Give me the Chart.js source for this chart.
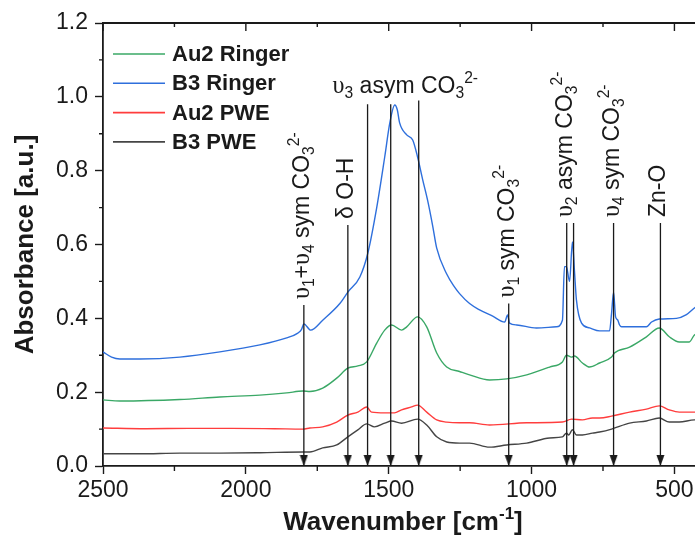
<!DOCTYPE html>
<html>
<head>
<meta charset="utf-8">
<script src="https://cdn.jsdelivr.net/npm/chart.js@4.4.0/dist/chart.umd.min.js"></script>
<style>
  html, body { margin: 0; padding: 0; background: #fff; }
  #wrap { width: 695px; height: 544px; overflow: hidden; }
</style>
</head>
<body>
<div id="wrap"><canvas id="spectra" width="712" height="544"></canvas></div>
<script>
// axis ticks
const xMajor = [2500, 2000, 1500, 1000, 500];
const xMinor = [2250, 1750, 1250, 750];
const yMajor = [0, 0.2, 0.4, 0.6, 0.8, 1.0, 1.2];
const yMinor = [0.1, 0.3, 0.5, 0.7, 0.9, 1.1];

// spectra (wavenumber cm-1, absorbance)
const wnAu2Ringer = [2500, 2441, 2231, 2091, 1951, 1857, 1800, 1776, 1731, 1682, 1643, 1608, 1577, 1542, 1514, 1490, 1455, 1437, 1399, 1367, 1332, 1297, 1252, 1217, 1147, 1087, 1017, 937, 892, 878, 860, 850, 822, 797, 762, 720, 710, 657, 598, 553, 518, 483, 448, 430, 410];
const absAu2Ringer = [0.179, 0.176, 0.180, 0.187, 0.192, 0.198, 0.203, 0.202, 0.211, 0.238, 0.265, 0.271, 0.282, 0.333, 0.368, 0.382, 0.368, 0.377, 0.404, 0.377, 0.306, 0.268, 0.256, 0.247, 0.233, 0.236, 0.247, 0.268, 0.282, 0.300, 0.295, 0.298, 0.279, 0.268, 0.279, 0.295, 0.306, 0.322, 0.350, 0.374, 0.350, 0.336, 0.336, 0.355, 0.360];

const wnB3Ringer = [2500, 2470, 2441, 2371, 2231, 2091, 1951, 1857, 1818, 1805, 1797, 1773, 1731, 1671, 1643, 1601, 1573, 1542, 1514, 1496, 1479, 1470, 1462, 1437, 1416, 1399, 1381, 1364, 1346, 1332, 1297, 1270, 1252, 1217, 1182, 1136, 1094, 1084, 1077, 1052, 983, 913, 892, 885, 878, 867, 857, 850, 843, 825, 797, 762, 727, 720, 713, 706, 699, 692, 685, 598, 580, 553, 493, 458, 430, 410];
const absB3Ringer = [0.309, 0.295, 0.290, 0.290, 0.295, 0.309, 0.328, 0.347, 0.360, 0.370, 0.385, 0.368, 0.395, 0.440, 0.471, 0.512, 0.577, 0.700, 0.837, 0.930, 0.978, 0.965, 0.930, 0.897, 0.883, 0.837, 0.775, 0.720, 0.650, 0.590, 0.520, 0.485, 0.467, 0.440, 0.423, 0.406, 0.390, 0.409, 0.387, 0.382, 0.374, 0.377, 0.395, 0.540, 0.540, 0.500, 0.607, 0.530, 0.450, 0.387, 0.374, 0.366, 0.366, 0.414, 0.471, 0.404, 0.396, 0.382, 0.377, 0.377, 0.390, 0.398, 0.400, 0.410, 0.428, 0.440];

const wnAu2PWE = [2500, 2350, 2200, 2050, 1900, 1800, 1776, 1731, 1682, 1643, 1608, 1577, 1560, 1514, 1480, 1455, 1420, 1399, 1367, 1332, 1297, 1252, 1217, 1147, 1017, 892, 860, 822, 787, 762, 720, 657, 598, 553, 518, 483, 430, 410];
const absAu2PWE = [0.103, 0.101, 0.102, 0.102, 0.101, 0.100, 0.103, 0.106, 0.119, 0.138, 0.146, 0.160, 0.146, 0.144, 0.144, 0.152, 0.160, 0.165, 0.146, 0.125, 0.119, 0.117, 0.117, 0.111, 0.117, 0.119, 0.127, 0.125, 0.130, 0.130, 0.135, 0.146, 0.154, 0.163, 0.152, 0.146, 0.146, 0.146];

const wnB3PWE = [2500, 2371, 2231, 2091, 1951, 1800, 1776, 1731, 1682, 1643, 1608, 1577, 1550, 1514, 1490, 1455, 1399, 1367, 1332, 1297, 1252, 1217, 1147, 1087, 1017, 937, 892, 878, 870, 857, 843, 822, 787, 762, 720, 657, 598, 553, 518, 483, 430, 410];
const absB3PWE = [0.033, 0.033, 0.035, 0.035, 0.036, 0.038, 0.038, 0.049, 0.057, 0.079, 0.098, 0.114, 0.106, 0.116, 0.122, 0.116, 0.127, 0.111, 0.079, 0.065, 0.062, 0.062, 0.051, 0.057, 0.062, 0.076, 0.079, 0.089, 0.084, 0.098, 0.084, 0.084, 0.089, 0.092, 0.100, 0.116, 0.122, 0.130, 0.119, 0.119, 0.125, 0.125];

// band markers: wavenumber and absorbance where the arrow starts
const bandWn = [1797, 1643, 1574, 1493, 1395, 1080, 877, 853, 713, 549];
const bandTop = [0.436, 0.653, 0.98, 0.98, 0.99, 0.44, 0.658, 0.658, 0.658, 0.658];

// label text; "g" = greek glyph, "sub"/"sup" = sub/superscript
const bandLabels = [
  { band: 0, segs: [["υ", "g"], ["1", "sub"], ["+"], ["υ", "g"], ["4", "sub"], [" sym CO"], ["3", "sub"], ["2-", "sup"]] },
  { band: 1, segs: [["δ O-H"]] },
  { band: 5, segs: [["υ", "g"], ["1", "sub"], [" sym CO"], ["3", "sub"], ["2-", "sup"]] },
  { band: 6, segs: [["υ", "g"], ["2", "sub"], [" asym CO"], ["3", "sub"], ["2-", "sup"]] },
  { band: 8, segs: [["υ", "g"], ["4", "sub"], [" sym CO"], ["3", "sub"], ["2-", "sup"]] },
  { band: 9, segs: [["Zn-O"]] },
];
const groupLabel = { band: 2, segs: [["υ", "g"], ["3", "sub"], [" asym CO"], ["3", "sub"], ["2-", "sup"]] };

const SANS = '"Liberation Sans", Arial, sans-serif';
const SERIF = '"Liberation Serif", "Times New Roman", serif';
const INK = "#1a1a1a";
const LABEL_SIZE = 23;

function pairs(xs, ys) {
  return xs.map((x, i) => ({ x: x, y: ys[i] }));
}

// little arrow head used as point style (tip sits at the point)
const arrowHead = document.createElement("canvas");
arrowHead.width = 9;
arrowHead.height = 24;
const ac = arrowHead.getContext("2d");
ac.fillStyle = INK;
ac.beginPath();
ac.moveTo(0.5, 1);
ac.lineTo(8.5, 1);
ac.lineTo(4.5, 12);
ac.closePath();
ac.fill();

function drawRich(ctx, segs, x, y, size) {
  let cx = x;
  segs.forEach(([t, kind]) => {
    let fs = size, dy = 0, fam = SANS;
    if (kind === "sub") { fs = size * 0.68; dy = size * 0.22; }
    if (kind === "sup") { fs = size * 0.68; dy = -size * 0.42; }
    if (kind === "g") { fam = SERIF; fs = size * 1.05; }
    ctx.font = fs + "px " + fam;
    ctx.fillText(t, cx, y + dy);
    cx += ctx.measureText(t).width;
  });
  return cx - x;
}

const curves = [
  { label: "Au2 Ringer", color: "#3aa866", wn: wnAu2Ringer, abs: absAu2Ringer },
  { label: "B3 Ringer", color: "#2e6fdc", wn: wnB3Ringer, abs: absB3Ringer },
  { label: "Au2 PWE", color: "#ff3d3d", wn: wnAu2PWE, abs: absAu2PWE },
  { label: "B3 PWE", color: "#454545", wn: wnB3PWE, abs: absB3PWE },
];

const datasets = curves.map((c) => ({
  label: c.label,
  isCurve: true,
  data: pairs(c.wn, c.abs),
  borderColor: c.color,
  borderWidth: 1.4,
  pointRadius: 0,
  cubicInterpolationMode: "monotone",
  order: 1,
}));

bandWn.forEach((w, i) => {
  datasets.push({
    label: "band" + i,
    data: [{ x: w, y: bandTop[i] }, { x: w, y: 0 }],
    borderColor: INK,
    borderWidth: 1.3,
    pointRadius: [0, 4],
    pointStyle: arrowHead,
    order: 0,
  });
});

const decorations = {
  id: "decorations",
  afterDraw(chart) {
    const { ctx, chartArea: a, scales: { x, y } } = chart;
    ctx.save();
    ctx.strokeStyle = INK;
    ctx.fillStyle = INK;

    // top frame with inward ticks
    ctx.lineWidth = 1.8;
    ctx.beginPath();
    ctx.moveTo(a.left, a.top);
    ctx.lineTo(a.right, a.top);
    ctx.stroke();
    ctx.lineWidth = 1.4;
    ctx.beginPath();
    xMajor.forEach((v) => { const p = x.getPixelForValue(v); ctx.moveTo(p, a.top); ctx.lineTo(p, a.top + 8); });
    xMinor.forEach((v) => { const p = x.getPixelForValue(v); ctx.moveTo(p, a.top); ctx.lineTo(p, a.top + 4); });
    // minor ticks on bottom and left
    xMinor.forEach((v) => { const p = x.getPixelForValue(v); ctx.moveTo(p, a.bottom); ctx.lineTo(p, a.bottom + 5); });
    yMinor.forEach((v) => { const p = y.getPixelForValue(v); ctx.moveTo(a.left, p); ctx.lineTo(a.left - 4, p); });
    ctx.stroke();

    // legend
    ctx.font = "bold 22px " + SANS;
    ctx.textBaseline = "middle";
    ctx.textAlign = "left";
    chart.data.datasets.filter((d) => d.isCurve).forEach((d, i) => {
      const ly = a.top + 31 + i * 29.3;
      ctx.strokeStyle = d.borderColor;
      ctx.lineWidth = 1.6;
      ctx.beginPath();
      ctx.moveTo(a.left + 10, ly);
      ctx.lineTo(a.left + 62, ly);
      ctx.stroke();
      ctx.fillStyle = INK;
      ctx.fillText(d.label, a.left + 69, ly + 1);
    });

    // band labels
    ctx.textBaseline = "alphabetic";
    ctx.fillStyle = INK;
    bandLabels.forEach((l) => {
      const px = x.getPixelForValue(bandWn[l.band]) + 5;
      const py = y.getPixelForValue(bandTop[l.band]) - 6;
      ctx.save();
      ctx.translate(px, py);
      ctx.rotate(-Math.PI / 2);
      drawRich(ctx, l.segs, 0, 0, LABEL_SIZE);
      ctx.restore();
    });
    const gx = x.getPixelForValue(bandWn[groupLabel.band]) - 35;
    const gy = y.getPixelForValue(bandTop[groupLabel.band + 2]) - 8;
    drawRich(ctx, groupLabel.segs, gx, gy, LABEL_SIZE);

    // x axis title with superscript
    const parts = [["Wavenumber [cm", ""], ["-1", "sup"], ["]", ""]];
    let total = 0;
    parts.forEach(([t, k]) => {
      ctx.font = "bold " + (k ? 17 : 26) + "px " + SANS;
      total += ctx.measureText(t).width;
    });
    let tx = (a.left + a.right) / 2 - total / 2;
    const ty = 530;
    parts.forEach(([t, k]) => {
      ctx.font = "bold " + (k ? 17 : 26) + "px " + SANS;
      ctx.fillText(t, tx, k ? ty - 11 : ty);
      tx += ctx.measureText(t).width;
    });
    ctx.restore();
  },
};

new Chart(document.getElementById("spectra"), {
  type: "line",
  data: { datasets: datasets },
  options: {
    responsive: false,
    animation: false,
    devicePixelRatio: 1,
    parsing: false,
    layout: { padding: { top: 23, right: 9, left: 0, bottom: 0 } },
    plugins: { legend: { display: false }, tooltip: { enabled: false } },
    scales: {
      x: {
        type: "linear",
        reverse: true,
        min: 400,
        max: 2500,
        afterBuildTicks: (s) => { s.ticks = xMajor.map((v) => ({ value: v })); },
        afterFit: (s) => { s.height = 78; },
        ticks: {
          color: INK,
          font: { size: 23, family: SANS },
          padding: 3,
          maxRotation: 0,
          callback: (v) => String(v),
        },
        grid: { drawOnChartArea: false, tickLength: 8, tickWidth: 1.4, tickColor: INK },
        border: { color: INK, width: 1.8 },
      },
      y: {
        min: 0,
        max: 1.2,
        afterBuildTicks: (s) => { s.ticks = yMajor.map((v) => ({ value: v })); },
        afterFit: (s) => { s.width = 103; },
        ticks: {
          color: INK,
          font: { size: 23, family: SANS },
          padding: 7,
          callback: (v) => v.toFixed(1),
        },
        title: {
          display: true,
          text: "Absorbance [a.u.]",
          color: INK,
          font: { size: 26, weight: "bold", family: SANS },
          padding: { top: 10, bottom: 0 },
        },
        grid: { drawOnChartArea: false, tickLength: 8, tickWidth: 1.4, tickColor: INK },
        border: { color: INK, width: 1.8 },
      },
    },
  },
  plugins: [decorations],
});
</script>
</body>
</html>
